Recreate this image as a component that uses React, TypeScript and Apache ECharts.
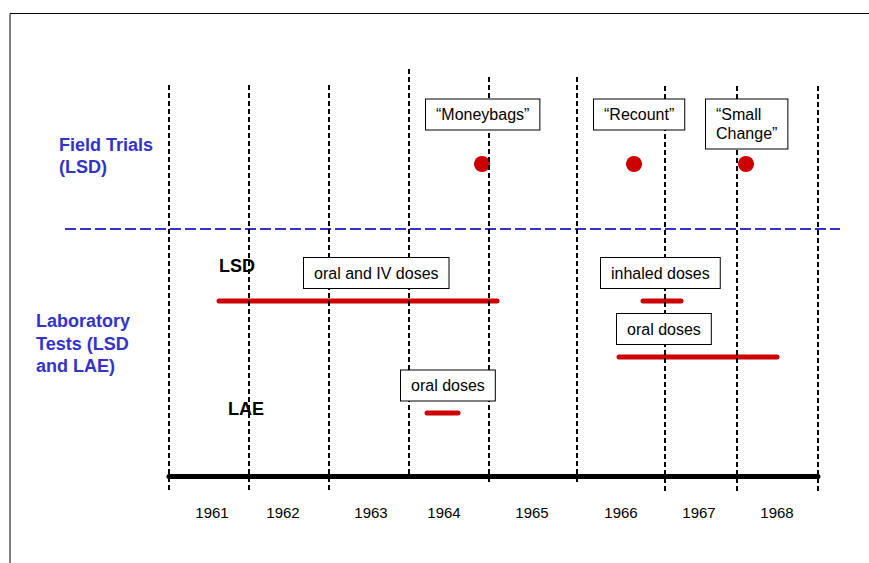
import React, { useEffect, useRef } from "react";
import * as echarts from "echarts";

// x: timeline units (0 = left end of the time axis), y: height above the time axis
const yearLabels = ["1961", "1962", "1963", "1964", "1965", "1966", "1967", "1968"];
const yearLabelPos = [43, 114, 202, 275, 363, 452, 530, 608];
const yearBoundaries = [0, 80, 160, 240, 320, 408, 496, 568, 649];
const boundaryTop = [391, 391, 391, 407, 399, 399, 390, 390, 390];
const boundaryBottom = [-17, -17, -17, 0, -9, -9, -17, -17, -17];

const fieldTrialNames = ["\u201CMoneybags\u201D", "\u201CRecount\u201D", "\u201CSmall\nChange\u201D"];
const fieldTrialX = [313, 465, 577];
const fieldTrialY = [312, 312, 312];
const fieldTrialLabelX = [257, 425, 537];
const fieldTrialLabelY = [361.5, 361.5, 352];

const labTestLabels = ["oral and IV doses", "inhaled doses", "oral doses", "oral doses"];
const labTestStart = [50, 474, 450, 258];
const labTestEnd = [328, 512, 608, 289];
const labTestY = [175, 175, 119, 63];
const labLabelX = [135, 432, 448, 232];
const labLabelY = [203, 203, 147, 90.5];

const sectionLabels = ["Field Trials\n(LSD)", "Laboratory\nTests (LSD\nand LAE)"];
const sectionX = [-110, -133];
const sectionY = [320, 132.5];
const sectionLineHeight = [22, 22.5];

const drugLabels = ["LSD", "LAE"];
const drugX = [50, 59];
const drugY = [210, 67.5];

const dividerX = [-104, 671];
const dividerY = 247;

const FONT = "'Liberation Sans', Arial, sans-serif";
const RED = "#CC0000";
const BLUE = "#3333CC";

export default function App() {
  const ref = useRef<HTMLDivElement>(null);
  useEffect(() => {
    const chart = echarts.init(ref.current!, null, { renderer: "svg" });
    const option: any = {
      animation: false,
      backgroundColor: "#fff",
      grid: { left: 169, right: 51, top: 13, bottom: 87, containLabel: false },
      xAxis: {
        type: "value",
        min: 0,
        max: 649,
        axisLine: { show: true, onZero: false, lineStyle: { color: "#000", width: 5 } },
        axisTick: { show: false },
        splitLine: { show: false },
        axisLabel: {
          customValues: yearLabelPos,
          formatter: (v: number) => {
            const i = yearLabelPos.indexOf(v);
            return i >= 0 ? yearLabels[i] : "";
          },
          margin: 29,
          fontSize: 15,
          color: "#000",
          fontFamily: FONT,
        },
      },
      yAxis: { type: "value", min: 0, max: 463, show: false },
      graphic: [
        {
          type: "polyline",
          shape: { points: [[10, 563], [10, 13.5], [869, 13.5]] },
          style: { stroke: "#000", lineWidth: 1, fill: "none" },
          silent: true,
        },
      ],
      series: [
        {
          type: "custom",
          name: "divider",
          clip: false,
          z: 1,
          data: [[dividerX[0], dividerX[1], dividerY]],
          encode: { x: [0, 1], y: 2 },
          renderItem: (params: any, api: any) => {
            const a = api.coord([api.value(0), api.value(2)]);
            const b = api.coord([api.value(1), api.value(2)]);
            return {
              type: "line",
              shape: { x1: a[0], y1: a[1], x2: b[0], y2: b[1] },
              style: { stroke: BLUE, lineWidth: 2, lineDash: [11, 4] },
            };
          },
        },
        {
          type: "custom",
          name: "lab tests",
          clip: false,
          z: 2,
          data: labTestStart.map((s, i) => [s, labTestEnd[i], labTestY[i]]),
          encode: { x: [0, 1], y: 2 },
          renderItem: (params: any, api: any) => {
            const a = api.coord([api.value(0), api.value(2)]);
            const b = api.coord([api.value(1), api.value(2)]);
            return {
              type: "line",
              shape: { x1: a[0], y1: a[1], x2: b[0], y2: b[1] },
              style: { stroke: RED, lineWidth: 5, lineCap: "round" },
            };
          },
        },
        {
          type: "scatter",
          name: "field trials",
          z: 3,
          symbol: "circle",
          symbolSize: 16,
          itemStyle: { color: RED, opacity: 1 },
          data: fieldTrialX.map((x, i) => [x, fieldTrialY[i]]),
        },
        {
          type: "custom",
          name: "year boundaries",
          clip: false,
          z: 4,
          data: yearBoundaries.map((x, i) => [x, boundaryTop[i], boundaryBottom[i]]),
          encode: { x: 0, y: [1, 2] },
          renderItem: (params: any, api: any) => {
            const a = api.coord([api.value(0), api.value(1)]);
            const b = api.coord([api.value(0), api.value(2)]);
            return {
              type: "line",
              shape: { x1: a[0], y1: a[1], x2: b[0], y2: b[1] },
              style: { stroke: "#000", lineWidth: 2, lineDash: [5, 3] },
            };
          },
        },
        {
          type: "custom",
          name: "callouts",
          clip: false,
          z: 5,
          data: [
            ...fieldTrialLabelX.map((x, i) => [x, fieldTrialLabelY[i]]),
            ...labLabelX.map((x, i) => [x, labLabelY[i]]),
          ],
          renderItem: (params: any, api: any) => {
            const p = api.coord([api.value(0), api.value(1)]);
            const texts = [...fieldTrialNames, ...labTestLabels];
            return {
              type: "text",
              x: p[0],
              y: p[1],
              style: {
                text: texts[params.dataIndex],
                fill: "#000",
                fontSize: 16,
                fontFamily: FONT,
                align: "left",
                verticalAlign: "middle",
                lineHeight: 19,
                backgroundColor: "#fff",
                borderColor: "#000",
                borderWidth: 1,
                padding: [5.5, 10],
              },
            };
          },
        },
        {
          type: "custom",
          name: "section labels",
          clip: false,
          z: 5,
          data: sectionX.map((x, i) => [x, sectionY[i]]),
          renderItem: (params: any, api: any) => {
            const p = api.coord([api.value(0), api.value(1)]);
            return {
              type: "text",
              x: p[0],
              y: p[1],
              style: {
                text: sectionLabels[params.dataIndex],
                fill: BLUE,
                fontSize: 18,
                fontWeight: "bold",
                fontFamily: FONT,
                align: "left",
                verticalAlign: "middle",
                lineHeight: sectionLineHeight[params.dataIndex],
              },
            };
          },
        },
        {
          type: "custom",
          name: "drug labels",
          clip: false,
          z: 5,
          data: drugX.map((x, i) => [x, drugY[i]]),
          renderItem: (params: any, api: any) => {
            const p = api.coord([api.value(0), api.value(1)]);
            return {
              type: "text",
              x: p[0],
              y: p[1],
              style: {
                text: drugLabels[params.dataIndex],
                fill: "#000",
                fontSize: 18,
                fontWeight: "bold",
                fontFamily: FONT,
                align: "left",
                verticalAlign: "middle",
              },
            };
          },
        },
      ],
    };
    chart.setOption(option);
    return () => chart.dispose();
  }, []);
  return (
    <div
      ref={ref}
      style={{ position: "absolute", left: 0, top: 0, width: 869, height: 563 }}
    />
  );
}
